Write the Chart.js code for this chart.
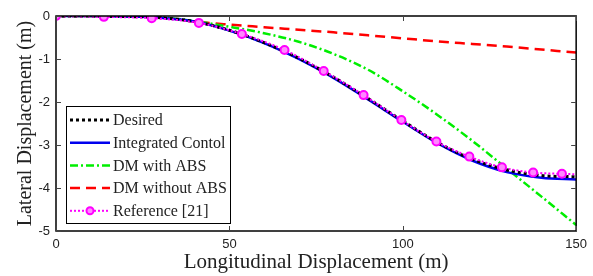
<!DOCTYPE html>
<html>
<head>
<meta charset="utf-8">
<script src="https://cdn.jsdelivr.net/npm/chart.js@4"></script>
<style>
  html, body { margin: 0; padding: 0; background: #fff; }
  #wrap { width: 593px; height: 276px; }
</style>
</head>
<body>
<div id="wrap"><canvas id="grafico"></canvas></div>
<script>
// dados
const xGrid = [0, 10, 20, 30, 40, 50, 60, 70, 80, 90, 100, 110, 120, 130, 140, 150];
const desejado = [0, 0, -0.01, -0.04, -0.13, -0.33, -0.62, -0.98, -1.42, -1.92, -2.44, -2.94, -3.33, -3.58, -3.71, -3.74];
const integrado = [0, 0, -0.01, -0.04, -0.13, -0.34, -0.63, -1.0, -1.44, -1.94, -2.46, -2.96, -3.36, -3.63, -3.76, -3.80];
const dmComAbs = [0, 0, -0.01, -0.03, -0.12, -0.25, -0.4, -0.6, -0.88, -1.25, -1.75, -2.3, -2.9, -3.55, -4.2, -4.86];
const dmSemAbs = [0, 0, -0.01, -0.03, -0.13, -0.2, -0.26, -0.32, -0.38, -0.45, -0.52, -0.59, -0.65, -0.71, -0.78, -0.85];
const xReferencia = [0, 13.8, 27.6, 41.2, 53.6, 65.9, 77.2, 88.7, 99.6, 109.7, 119.2, 128.6, 137.6, 145.9, 150];
const referencia = [0, -0.02, -0.05, -0.16, -0.42, -0.79, -1.28, -1.84, -2.42, -2.92, -3.27, -3.52, -3.64, -3.67, -3.68];
const ticksX = [0, 50, 100, 150];
const ticksY = [0, -1, -2, -3, -4, -5];

const pares = (xs, ys) => xs.map((x, i) => ({ x, y: ys[i] }));

const fonteSerif = '"Liberation Serif", "Times New Roman", serif';
const fonteSans = '"Liberation Sans", Arial, sans-serif';

/* moldura + ticks para dentro */
const moldura = {
  id: 'moldura',
  afterDraw(chart) {
    const { ctx, chartArea: a, scales } = chart;
    ctx.save();
    ctx.strokeStyle = '#000';
    ctx.lineWidth = 1.5;
    ctx.setLineDash([]);
    ctx.strokeRect(a.left, a.top, a.right - a.left, a.bottom - a.top);
    ctx.lineWidth = 1;
    ctx.strokeStyle = '#444';
    const t = 5;
    ticksX.forEach(v => {
      const px = Math.round(scales.x.getPixelForValue(v)) + 0.5;
      ctx.beginPath();
      ctx.moveTo(px, a.bottom); ctx.lineTo(px, a.bottom - t);
      ctx.moveTo(px, a.top); ctx.lineTo(px, a.top + t);
      ctx.stroke();
    });
    ticksY.forEach(v => {
      const py = Math.round(scales.y.getPixelForValue(v)) + 0.5;
      ctx.beginPath();
      ctx.moveTo(a.left, py); ctx.lineTo(a.left + t, py);
      ctx.moveTo(a.right, py); ctx.lineTo(a.right - t, py);
      ctx.stroke();
    });
    ctx.restore();
  }
};

/* legenda no canto inferior esquerdo */
const legenda = {
  id: 'legenda',
  afterDraw(chart) {
    const { ctx, chartArea: a } = chart;
    const x0 = a.left + 10, y0 = a.top + 90, w = 164, h = 117;
    ctx.save();
    ctx.fillStyle = '#fff';
    ctx.fillRect(x0, y0, w, h);
    ctx.strokeStyle = '#000';
    ctx.lineWidth = 1;
    ctx.setLineDash([]);
    ctx.strokeRect(x0 + 0.5, y0 + 0.5, w, h);
    ctx.font = '16px ' + fonteSerif;
    ctx.textBaseline = 'middle';
    chart.data.datasets.forEach((ds, i) => {
      const y = y0 + 14 + i * 22.7;
      ctx.strokeStyle = ds.borderColor;
      ctx.lineWidth = ds.borderWidth;
      ctx.setLineDash(ds.borderDash || []);
      ctx.beginPath();
      ctx.moveTo(x0 + 4, y); ctx.lineTo(x0 + 44, y);
      ctx.stroke();
      if (ds.marcador) {
        ctx.setLineDash([]);
        ctx.fillStyle = ds.pointBackgroundColor;
        ctx.strokeStyle = ds.pointBorderColor;
        ctx.lineWidth = 2;
        ctx.beginPath();
        ctx.arc(x0 + 24, y, 3.5, 0, Math.PI * 2);
        ctx.fill(); ctx.stroke();
      }
      ctx.fillStyle = '#222';
      ctx.fillText(ds.label, x0 + 47, y + 1);
    });
    ctx.restore();
  }
};

new Chart(document.getElementById('grafico'), {
  type: 'line',
  data: {
    datasets: [
      {
        label: 'Desired',
        data: pares(xGrid, desejado),
        borderColor: '#000',
        borderWidth: 3,
        borderDash: [3, 3],
        pointRadius: 0,
        order: 1
      },
      {
        label: 'Integrated Contol',
        data: pares(xGrid, integrado),
        borderColor: '#0000ee',
        borderWidth: 2.5,
        pointRadius: 0,
        order: 2
      },
      {
        label: 'DM with ABS',
        data: pares(xGrid, dmComAbs),
        borderColor: '#00ee00',
        borderWidth: 2.5,
        borderDash: [8, 3, 2, 3],
        pointRadius: 0,
        order: 3
      },
      {
        label: 'DM without ABS',
        data: pares(xGrid, dmSemAbs),
        borderColor: '#ff0000',
        borderWidth: 2.5,
        borderDash: [10, 6],
        pointRadius: 0,
        order: 4
      },
      {
        label: 'Reference [21]',
        data: pares(xReferencia, referencia),
        borderColor: '#ff00ff',
        borderWidth: 2,
        borderDash: [2, 2],
        pointRadius: xReferencia.map((x, i) => i === xReferencia.length - 1 ? 0 : 4),
        pointBorderWidth: 2,
        pointBackgroundColor: '#ff88ff',
        pointBorderColor: '#ff00ff',
        marcador: true,
        order: 0
      }
    ]
  },
  options: {
    responsive: true,
    maintainAspectRatio: false,
    animation: false,
    events: [],
    elements: { line: { cubicInterpolationMode: 'monotone', fill: false } },
    layout: { padding: { top: 16, right: 16, left: 0, bottom: 0 } },
    plugins: {
      legend: { display: false },
      tooltip: { enabled: false }
    },
    scales: {
      x: {
        type: 'linear',
        min: 0,
        max: 150,
        afterBuildTicks: s => { s.ticks = ticksX.map(v => ({ value: v })); },
        afterFit: s => { s.height = 45; },
        grid: { display: false, drawTicks: false },
        border: { display: false },
        ticks: { color: '#222', font: { family: fonteSans, size: 13 }, padding: 6, maxRotation: 0 },
        title: {
          display: true,
          text: 'Longitudinal Displacement (m)',
          color: '#222',
          font: { family: fonteSerif, size: 21 },
          padding: { top: 0, bottom: 1 }
        }
      },
      y: {
        min: -5,
        max: 0,
        afterBuildTicks: s => { s.ticks = ticksY.map(v => ({ value: v })); },
        afterFit: s => { s.width = 56; },
        grid: { display: false, drawTicks: false },
        border: { display: false },
        ticks: { color: '#222', font: { family: fonteSans, size: 13 }, padding: 6 },
        title: {
          display: true,
          text: 'Lateral Displacement (m)',
          color: '#222',
          font: { family: fonteSerif, size: 20 },
          padding: { top: 14, bottom: 0 }
        }
      }
    }
  },
  plugins: [moldura, legenda]
});
</script>
</body>
</html>
